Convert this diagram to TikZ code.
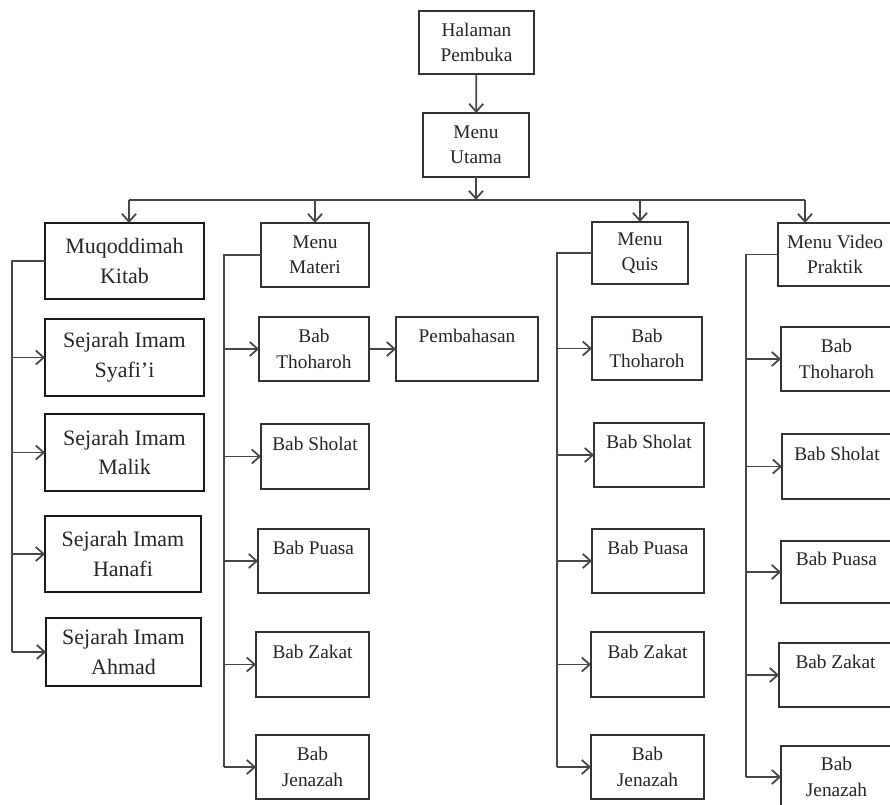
\documentclass[tikz,border=0pt]{standalone}
\usepackage{fontspec}
\setmainfont{Liberation Serif}
\usetikzlibrary{arrows.meta}

\begin{document}
\begin{tikzpicture}[x=0.02cm,y=-0.02cm,
  line/.style={draw=black!72,line width=1pt},
  arr/.style={line,-{Straight Barb[length=4.5pt,width=8pt]}},
  menu/.style={draw=black!80,line width=1pt,align=center,inner sep=0pt,outer sep=0pt,
    text=black!85,font=\fontsize{11}{14.5}\selectfont},
  imam/.style={menu,draw=black!90,font=\fontsize{12.5}{17}\selectfont},
  sz/.style 2 args={minimum width=#1*0.02cm,minimum height=#2*0.02cm}]
  \useasboundingbox (0,0) rectangle (890,805);

  \node[menu,sz={115}{63}] (halaman) at (476.5,42.5) {Halaman\\Pembuka};
  \node[menu,sz={106}{64}] (utama) at (476,145) {Menu\\Utama};

  \node[imam,sz={159}{76}] (muqoddimah) at (124.5,261) {Muqoddimah\\Kitab};
  \node[imam,sz={159}{77}] (syafii) at (124.5,357.5) {Sejarah Imam\\Syafi'i};
  \node[imam,sz={159}{77}] (malik) at (124.5,452.5) {Sejarah Imam\\Malik};
  \node[imam,sz={156}{76}] (hanafi) at (123,554) {Sejarah Imam\\Hanafi};
  \node[imam,sz={155}{68}] (ahmad) at (123.5,652) {Sejarah Imam\\Ahmad};

  \node[menu,sz={108}{64}] (materi) at (315,255) {Menu\\Materi};
  \node[menu,sz={110}{64}] (mthoharoh) at (314,349) {Bab\\Thoharoh};
  \node[menu,sz={142}{64}] (pembahasan) at (467,349) {Pembahasan\\~};
  \node[menu,sz={108}{65}] (msholat) at (315,456.5) {Bab Sholat\\~};
  \node[menu,sz={111}{64}] (mpuasa) at (313.5,561) {Bab Puasa\\~};
  \node[menu,sz={113}{65}] (mzakat) at (312.5,664.5) {Bab Zakat\\~};
  \node[menu,sz={113}{64}] (mjenazah) at (312.5,767) {Bab\\Jenazah};

  \node[menu,sz={96}{62}] (quis) at (640,253) {Menu\\Quis};
  \node[menu,sz={110}{63}] (qthoharoh) at (647,348.5) {Bab\\Thoharoh};
  \node[menu,sz={110}{64}] (qsholat) at (649,455) {Bab Sholat\\~};
  \node[menu,sz={112}{64}] (qpuasa) at (648,561) {Bab Puasa\\~};
  \node[menu,sz={113}{65}] (qzakat) at (647.5,664.5) {Bab Zakat\\~};
  \node[menu,sz={113}{64}] (qjenazah) at (647.5,767) {Bab\\Jenazah};

  \node[menu,sz={114}{63}] (video) at (835,254.5) {Menu Video\\Praktik};
  \node[menu,sz={111}{64}] (vthoharoh) at (836.5,359) {Bab\\Thoharoh};
  \node[menu,sz={110}{65}] (vsholat) at (837,466.5) {Bab Sholat\\~};
  \node[menu,sz={111}{62}] (vpuasa) at (836.5,572) {Bab Puasa\\~};
  \node[menu,sz={113}{64}] (vzakat) at (835.5,675) {Bab Zakat\\~};
  \node[menu,sz={111}{62}] (vjenazah) at (836.5,777) {Bab\\Jenazah};

  \coordinate (busW) at (129,200);
  \coordinate (busE) at (805,200);
  \coordinate (colA) at (12,0);
  \coordinate (colB) at (224,0);
  \coordinate (colC) at (557,0);
  \coordinate (colD) at (746,0);

  \draw[arr] (halaman) -- (utama);
  \draw[arr] (utama) -- (utama |- busW);
  \draw[line] (busW) -- (busE);
  \draw[arr] (busW) -- (busW |- muqoddimah.north);
  \draw[arr] (materi |- busW) -- (materi);
  \draw[arr] (quis |- busW) -- (quis);
  \draw[arr] (busE) -- (busE |- video.north);

  \draw[line] (muqoddimah.west) -| (colA |- ahmad.west);
  \foreach \n in {syafii,malik,hanafi,ahmad}
    \draw[arr] (colA |- \n.west) -- (\n.west);

  \draw[line] (materi.west) -| (colB |- mjenazah.west);
  \foreach \n in {mthoharoh,msholat,mpuasa,mzakat,mjenazah}
    \draw[arr] (colB |- \n.west) -- (\n.west);
  \draw[arr] (mthoharoh) -- (pembahasan);

  \draw[line] (quis.west) -| (colC |- qjenazah.west);
  \foreach \n in {qthoharoh,qsholat,qpuasa,qzakat,qjenazah}
    \draw[arr] (colC |- \n.west) -- (\n.west);

  \draw[line] (video.west) -| (colD |- vjenazah.west);
  \foreach \n in {vthoharoh,vsholat,vpuasa,vzakat,vjenazah}
    \draw[arr] (colD |- \n.west) -- (\n.west);
\end{tikzpicture}
\end{document}
